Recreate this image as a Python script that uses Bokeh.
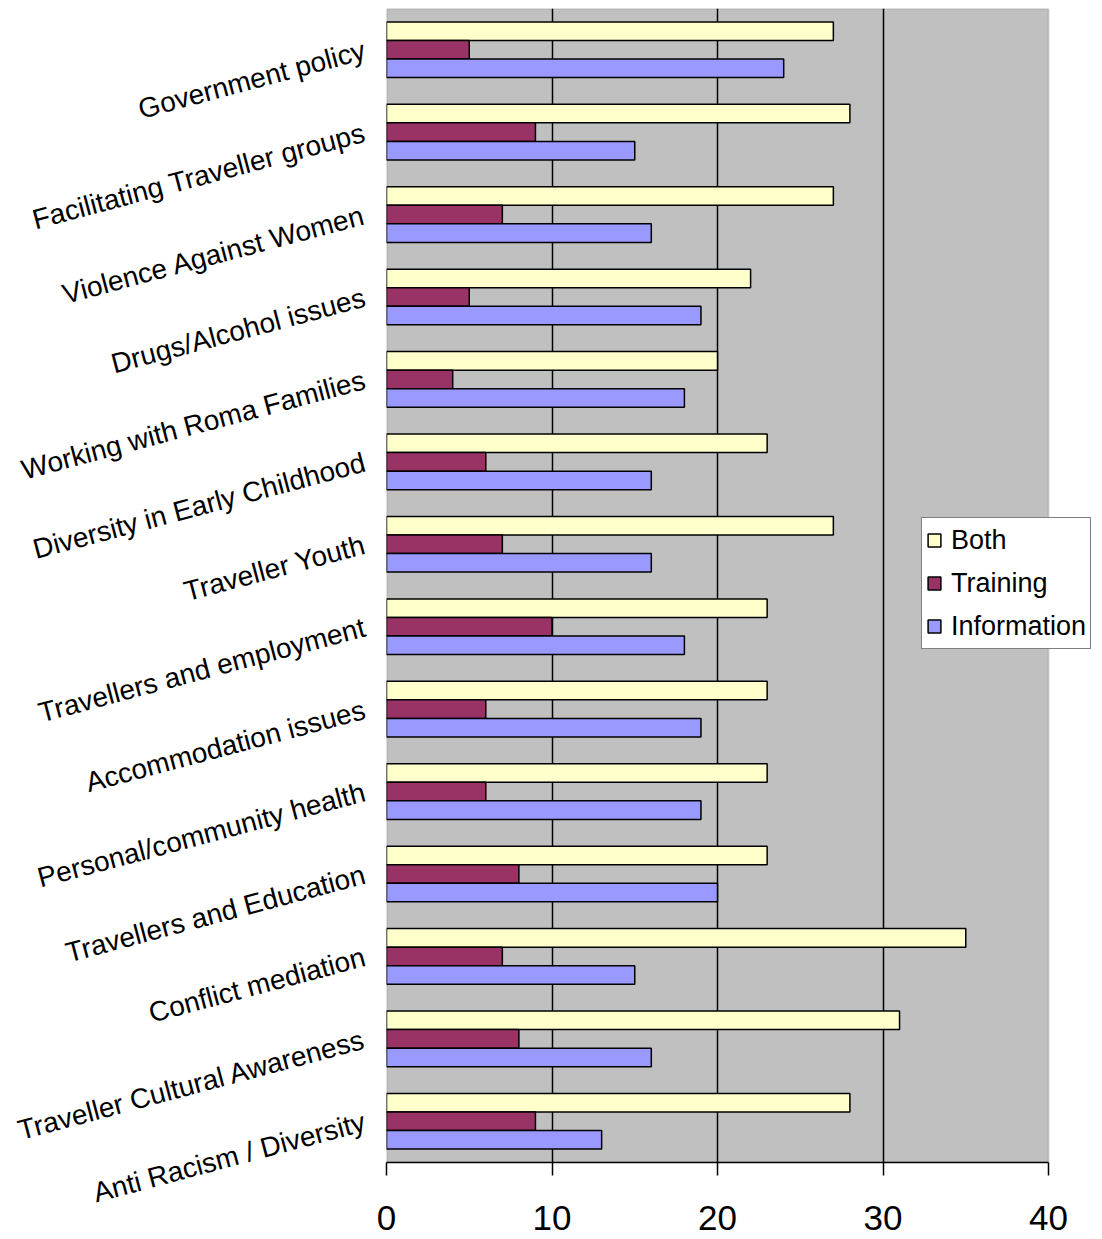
from bokeh.plotting import figure
from bokeh.models import FactorRange, Range1d, Legend, LegendItem, FixedTicker, ColumnDataSource, BoxAnnotation
from bokeh.transform import dodge
from bokeh.embed import file_html
from bokeh.resources import INLINE

categories = [
    "Government policy",
    "Facilitating Traveller groups",
    "Violence Against Women",
    "Drugs/Alcohol issues",
    "Working with Roma Families",
    "Diversity in Early Childhood",
    "Traveller Youth",
    "Travellers and employment",
    "Accommodation issues",
    "Personal/community health",
    "Travellers and Education",
    "Conflict mediation",
    "Traveller Cultural Awareness",
    "Anti Racism / Diversity",
]
both = [27, 28, 27, 22, 20, 23, 27, 23, 23, 23, 23, 35, 31, 28]
training = [5, 9, 7, 5, 4, 6, 7, 10, 6, 6, 8, 7, 8, 9]
information = [24, 15, 16, 19, 18, 16, 16, 18, 19, 19, 20, 15, 16, 13]
x_ticks = [0, 10, 20, 30, 40]

src = ColumnDataSource(dict(cat=categories, both=both, training=training, information=information))

FONT = "Liberation Sans"
LEFT, RIGHT_EDGE, W = 386, 1048, 1100
frame_w = W - LEFT
x_end = x_ticks[-1] * frame_w / (RIGHT_EDGE - LEFT)

p = figure(
    width=W, height=1235,
    y_range=FactorRange(factors=list(reversed(categories)), range_padding=0),
    x_range=Range1d(0, x_end),
    output_backend="svg", toolbar_location=None,
    min_border_left=LEFT, min_border_right=0, min_border_top=8, min_border_bottom=73,
)
p.background_fill_color = "white"
p.border_fill_color = "white"
p.outline_line_color = None

plot_area = BoxAnnotation(left=x_ticks[0], right=x_ticks[-1], fill_color="#C0C0C0", fill_alpha=1.0,
                          line_color="#808080", line_width=2, level="image")
p.add_layout(plot_area)

h = 0.225
r_both = p.hbar(y=dodge("cat", h, range=p.y_range), right="both", left=0, height=h, source=src,
                fill_color="#FFFFCC", line_color="black", line_width=1.5)
r_tr = p.hbar(y=dodge("cat", 0, range=p.y_range), right="training", left=0, height=h, source=src,
              fill_color="#993366", line_color="black", line_width=1.5)
r_inf = p.hbar(y=dodge("cat", -h, range=p.y_range), right="information", left=0, height=h, source=src,
               fill_color="#9999FF", line_color="black", line_width=1.5)

p.ygrid.grid_line_color = None
p.xgrid.ticker = FixedTicker(ticks=x_ticks[1:-1])
p.xgrid.grid_line_color = "black"
p.xgrid.grid_line_width = 1.5

xa = p.xaxis[0]
xa.ticker = FixedTicker(ticks=x_ticks)
xa.bounds = (x_ticks[0], x_ticks[-1])
xa.minor_tick_line_color = None
xa.major_tick_in = 0
xa.major_tick_out = 13
xa.major_tick_line_color = "black"
xa.major_tick_line_width = 1.5
xa.axis_line_color = "black"
xa.axis_line_width = 1.5
xa.major_label_text_font = FONT
xa.major_label_text_font_size = "35px"
xa.major_label_text_color = "black"
xa.major_label_standoff = 30

ya = p.yaxis[0]
ya.axis_line_color = None
ya.major_tick_line_color = None
ya.minor_tick_line_color = None
ya.major_label_orientation = 0.26
ya.major_label_text_font = FONT
ya.major_label_text_font_size = "28px"
ya.major_label_text_color = "black"
ya.major_label_standoff = 16

legend = Legend(
    items=[LegendItem(label="Both", renderers=[r_both]),
           LegendItem(label="Training", renderers=[r_tr]),
           LegendItem(label="Information", renderers=[r_inf])],
    location=(535, 513),
    label_text_font=FONT, label_text_font_size="27px", label_text_color="black",
    glyph_width=16, glyph_height=16, label_height=36, spacing=7,
    padding=4, margin=0, label_standoff=9,
    border_line_color="black", border_line_width=1.5,
    background_fill_color="white", background_fill_alpha=1.0,
)
p.add_layout(legend, "center")

open("out.html", "w").write(file_html(p, INLINE))
